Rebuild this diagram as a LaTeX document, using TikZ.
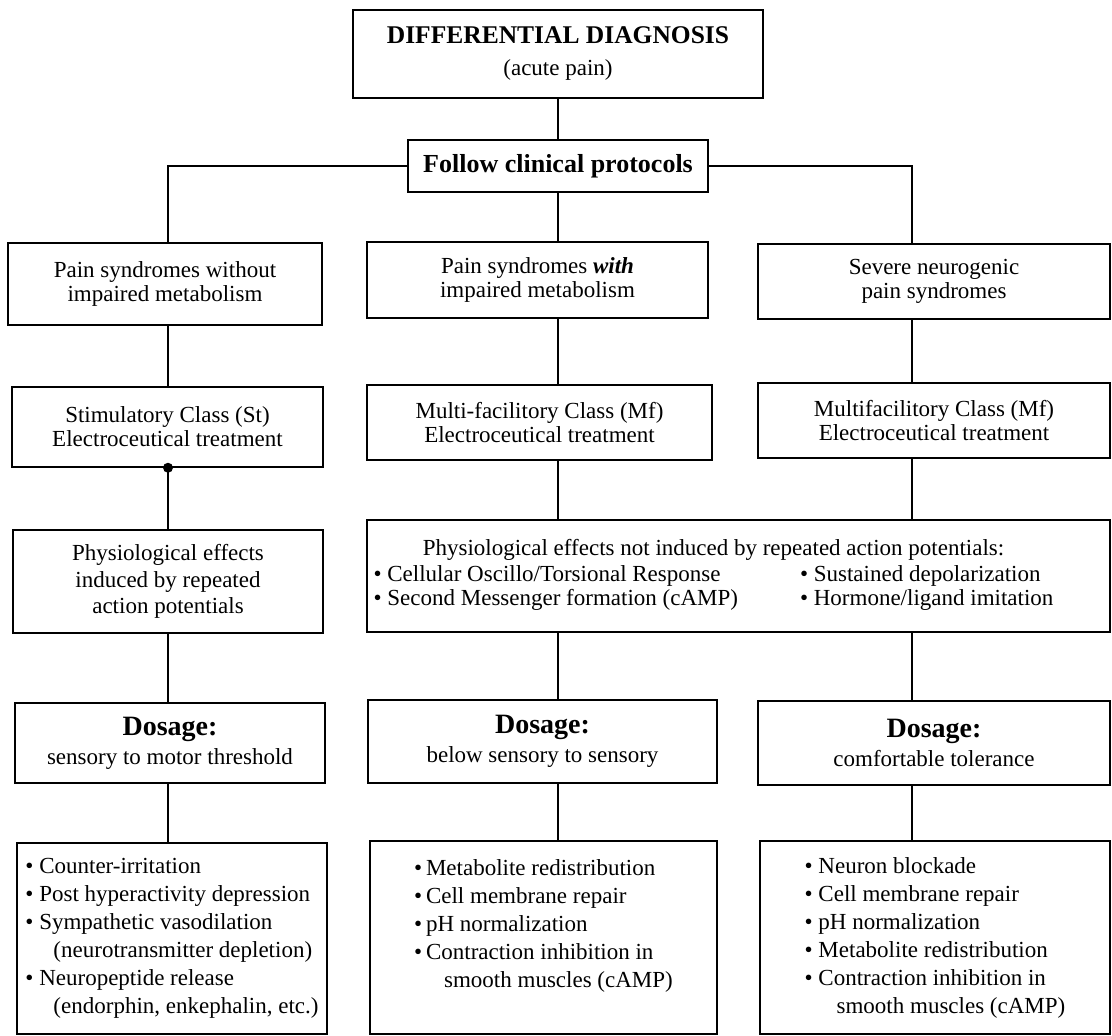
\documentclass[tikz,border=0pt]{standalone}
\usepackage{fontspec}
\setmainfont{Liberation Serif}
\usetikzlibrary{positioning}

\begin{document}
\begin{tikzpicture}[x=1pt,y=-1pt,
    every node/.style={font=\fontsize{23}{24}\selectfont}]
  \tikzstyle{boxA}=[draw,line width=1.5pt,align=center,inner sep=0pt]
  \tikzstyle{listA}=[boxA,align=left,font=\fontsize{23}{28}\selectfont]
  \tikzstyle{link}=[line width=1.6pt]
  \useasboundingbox (0,0) rectangle (1112,1036);
  % Columns
  \coordinate (cL) at (168,0);
  \coordinate (cM) at (558,0);
  \coordinate (cR) at (912,0);

  % Boxes
  \node[boxA, minimum width=410, minimum height=88] (diag) at (558,54)
    {{\bfseries\fontsize{25.5}{26}\selectfont DIFFERENTIAL DIAGNOSIS}\\[8pt](acute pain)};
  \node[boxA, minimum width=300, minimum height=52] (follow) at (558,166)
    {\bfseries\fontsize{26}{26}\selectfont Follow clinical protocols};

  \node[boxA, minimum width=314, minimum height=82] (pwo) at (165,284)
    {Pain syndromes without\\impaired metabolism};
  \node[boxA, minimum width=341, minimum height=76] (pwith) at (537.5,280)
    {Pain syndromes \textbf{\textit{with}}\\impaired metabolism};
  \node[boxA, minimum width=352, minimum height=75] (sev) at (934,281.5)
    {Severe neurogenic\\pain syndromes};

  \node[boxA, minimum width=311, minimum height=80] (stim) at (167.5,427)
    {Stimulatory Class (St)\\Electroceutical treatment};
  \node[boxA, minimum width=345, minimum height=75] (multi) at (539.5,422.5)
    {Multi-facilitory Class (Mf)\\Electroceutical treatment};
  \node[boxA, minimum width=352, minimum height=75] (multiR) at (934,420.5)
    {Multifacilitory Class (Mf)\\Electroceutical treatment};

  \node[boxA, minimum width=310, minimum height=103,
        font=\fontsize{23}{26.5}\selectfont] (physL) at (168,581.5)
    {Physiological effects\\induced by repeated\\action potentials};
  \node[boxA, minimum width=743, minimum height=112] (physW) at (738.5,576)
    {\begin{tabular}{@{}l@{\hspace{62pt}}l@{}}
       \multicolumn{2}{c}{Physiological effects not induced by repeated action potentials:}\\[2pt]
       \textbullet\ Cellular Oscillo/Torsional Response & \textbullet\ Sustained depolarization\\
       \textbullet\ Second Messenger formation (cAMP) & \textbullet\ Hormone/ligand imitation
     \end{tabular}\hspace*{50pt}};

  \node[boxA, minimum width=310, minimum height=80] (doseL) at (170,743)
    {{\bfseries\fontsize{28}{28}\selectfont Dosage:}\\[5pt]sensory to motor threshold};
  \node[boxA, minimum width=349, minimum height=83] (doseM) at (542.5,741.5)
    {{\bfseries\fontsize{28}{28}\selectfont Dosage:}\\[5pt]below sensory to sensory};
  \node[boxA, minimum width=352, minimum height=84] (doseR) at (934,743)
    {{\bfseries\fontsize{28}{28}\selectfont Dosage:}\\[5pt]comfortable tolerance};

  \node[listA, minimum width=310, minimum height=191] (listL) at (172,938.5)
    {\textbullet\ Counter-irritation\\
     \textbullet\ Post hyperactivity depression\\
     \textbullet\ Sympathetic vasodilation\\
     \hspace*{28pt}(neurotransmitter depletion)\\
     \textbullet\ Neuropeptide release\\
     \hspace*{28pt}(endorphin, enkephalin, etc.)};
  \node[listA, minimum width=347, minimum height=193] (listM) at (543.5,937.5)
    {\textbullet\,Metabolite redistribution\\
     \textbullet\,Cell membrane repair\\
     \textbullet\,pH normalization\\
     \textbullet\,Contraction inhibition in\\
     \hspace*{30pt}smooth muscles (cAMP)\\
     \mbox{}};
  \node[listA, minimum width=350, minimum height=193] (listR) at (935,937.5)
    {\textbullet\ Neuron blockade\\
     \textbullet\ Cell membrane repair\\
     \textbullet\ pH normalization\\
     \textbullet\ Metabolite redistribution\\
     \textbullet\ Contraction inhibition in\\
     \hspace*{32pt}smooth muscles (cAMP)};

  % Connections
  \draw[link] (diag.south) -- (follow.north);
  \draw[link] (follow.west) -| (cL |- pwo.north);
  \draw[link] (follow.east) -| (cR |- sev.north);
  \draw[link] (follow.south) -- (cM |- pwith.north);

  \draw[link] (cL |- pwo.south) -- (cL |- stim.north);
  \draw[link] (cM |- pwith.south) -- (cM |- multi.north);
  \draw[link] (cR |- sev.south) -- (cR |- multiR.north);

  \draw[link] (cL |- stim.south) -- (cL |- physL.north);
  \fill (cL |- stim.south) circle (5pt);
  \draw[link] (cM |- multi.south) -- (cM |- physW.north);
  \draw[link] (cR |- multiR.south) -- (cR |- physW.north);

  \draw[link] (cL |- physL.south) -- (cL |- doseL.north);
  \draw[link] (cM |- physW.south) -- (cM |- doseM.north);
  \draw[link] (cR |- physW.south) -- (cR |- doseR.north);

  \draw[link] (cL |- doseL.south) -- (cL |- listL.north);
  \draw[link] (cM |- doseM.south) -- (cM |- listM.north);
  \draw[link] (cR |- doseR.south) -- (cR |- listR.north);
\end{tikzpicture}
\end{document}
